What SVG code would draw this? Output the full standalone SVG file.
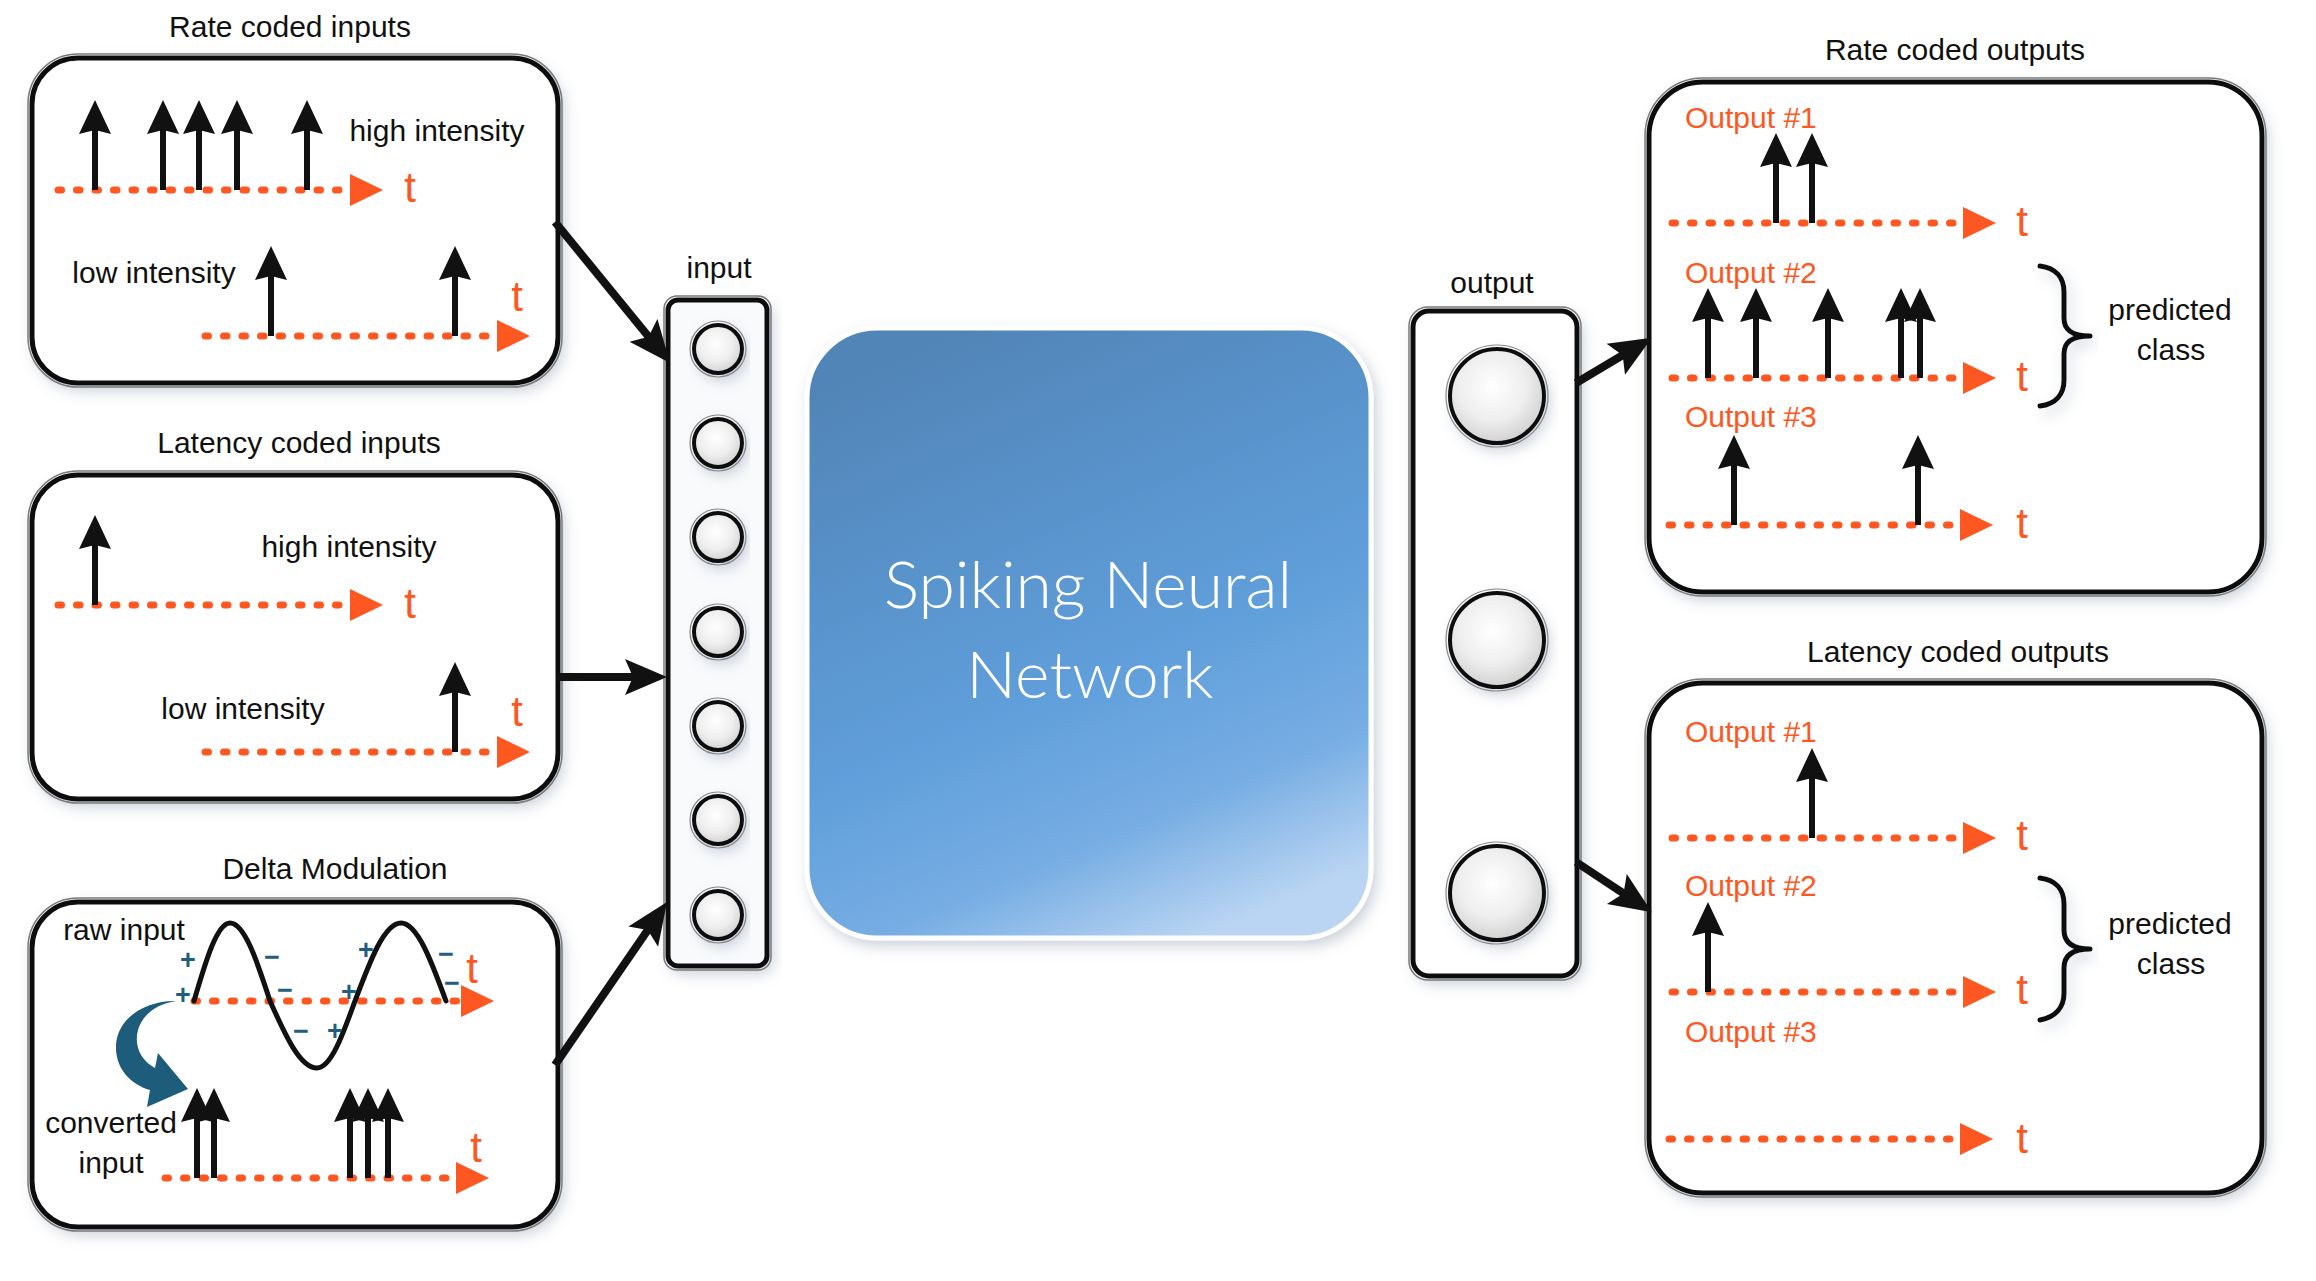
<svg xmlns="http://www.w3.org/2000/svg" width="2316" height="1281" viewBox="0 0 2316 1281">
<defs>
  <style>
    .lbl{font-family:"Liberation Sans",Arial,sans-serif;font-size:30px;fill:#111}
    .mid{text-anchor:middle}
    .org{font-family:"Liberation Sans",Arial,sans-serif;font-size:30px;fill:#FF5722}
    .t{font-family:"Liberation Sans",Arial,sans-serif;font-size:42px;fill:#FF5722;text-anchor:middle}
    .pm{font-family:"Liberation Sans",Arial,sans-serif;font-size:27px;font-weight:700;fill:#1F5E80;text-anchor:middle;dominant-baseline:central}
    .frame{fill:#fff;stroke:#111;stroke-width:5}
    .ring{fill:none;stroke:#7a7a7a;stroke-width:1.5}
    .ax{fill:none;stroke:#FF5722;stroke-width:7;stroke-dasharray:3.5 15;stroke-linecap:round;marker-end:url(#ah)}
    .con{fill:none;stroke:#111;stroke-width:8;marker-end:url(#ch)}
    .nin{fill:url(#rg);stroke:#111;stroke-width:4}
    .brace{fill:none;stroke:#111;stroke-width:5;stroke-linecap:round;stroke-linejoin:round}
    .snn{font-family:Lato,"Open Sans","Liberation Sans",sans-serif;font-weight:300;font-size:66px;fill:#fff;text-anchor:middle}
  </style>
  <filter id="sh" x="-10%" y="-10%" width="125%" height="125%">
    <feDropShadow dx="4" dy="6" stdDeviation="7" flood-color="#6d7f99" flood-opacity="0.35"/>
  </filter>
  <radialGradient id="rg" cx="0.45" cy="0.4" r="0.6">
    <stop offset="0" stop-color="#ffffff"/>
    <stop offset="0.6" stop-color="#eeeeee"/>
    <stop offset="1" stop-color="#d2d2d2"/>
  </radialGradient>
  <linearGradient id="bg" x1="0.3" y1="0" x2="0.7" y2="1">
    <stop offset="0" stop-color="#5185B8"/>
    <stop offset="0.55" stop-color="#5F9EDA"/>
    <stop offset="0.8" stop-color="#76ADE3"/>
    <stop offset="1" stop-color="#BAD5F3"/>
  </linearGradient>
  <marker id="ah" markerUnits="userSpaceOnUse" viewBox="0 0 36 34" refX="2" refY="17" markerWidth="36" markerHeight="34" orient="auto">
    <path d="M0,1 L33,17 L0,33 Z" fill="#FF5722"/>
  </marker>
  <marker id="ch" markerUnits="userSpaceOnUse" viewBox="0 0 44 40" refX="22" refY="20" markerWidth="44" markerHeight="40" orient="auto">
    <path d="M0,2 L42,20 L0,38 L8,20 Z" fill="#111"/>
  </marker>
  <g id="spk">
    <line x1="0" y1="0" x2="0" y2="-62" stroke="#111" stroke-width="6"/>
    <path d="M-16,-56 L0,-90 L16,-56 L0,-60 Z" fill="#111"/>
  </g>
</defs>
<rect width="2316" height="1281" fill="#fff"/>

<!-- Rate coded inputs -->
<g id="box-rate-in">
  <text class="lbl mid" x="290" y="37">Rate coded inputs</text>
  <rect class="frame" x="32" y="58" width="526" height="325" rx="46" filter="url(#sh)"/>
  <rect class="ring" x="28" y="54" width="534" height="333" rx="50"/>
  <line class="ax" x1="58" y1="190" x2="352" y2="190"/>
  <text class="t" x="410" y="202">t</text>
  <use href="#spk" x="95" y="190"/>
  <use href="#spk" x="163" y="190"/>
  <use href="#spk" x="199" y="190"/>
  <use href="#spk" x="237" y="190"/>
  <use href="#spk" x="307" y="190"/>
  <text class="lbl mid" x="437" y="141">high intensity</text>
  <text class="lbl mid" x="154" y="283">low intensity</text>
  <line class="ax" x1="205" y1="336" x2="499" y2="336"/>
  <text class="t" x="517" y="311">t</text>
  <use href="#spk" x="271" y="336"/>
  <use href="#spk" x="455" y="336"/>
</g>

<!-- Latency coded inputs -->
<g id="box-latency-in">
  <text class="lbl mid" x="299" y="453">Latency coded inputs</text>
  <rect class="frame" x="32" y="475" width="526" height="324" rx="46" filter="url(#sh)"/>
  <rect class="ring" x="28" y="471" width="534" height="332" rx="50"/>
  <line class="ax" x1="58" y1="605" x2="352" y2="605"/>
  <text class="t" x="410" y="618">t</text>
  <use href="#spk" x="95" y="605"/>
  <text class="lbl mid" x="349" y="557">high intensity</text>
  <text class="lbl mid" x="243" y="719">low intensity</text>
  <line class="ax" x1="205" y1="752" x2="499" y2="752"/>
  <text class="t" x="517" y="726">t</text>
  <use href="#spk" x="455" y="752"/>
</g>

<!-- Delta Modulation -->
<g id="box-delta">
  <text class="lbl mid" x="335" y="879">Delta Modulation</text>
  <rect class="frame" x="32" y="902" width="526" height="325" rx="46" filter="url(#sh)"/>
  <rect class="ring" x="28" y="898" width="534" height="333" rx="50"/>
  <text class="lbl mid" x="124" y="940">raw input</text>
  <line class="ax" x1="194" y1="1001" x2="463" y2="1001"/>
  <text class="t" x="472" y="983">t</text>
  <path d="M194,1001 C205.7,961 217,923 230,923 C244.5,923 257,961 270,1001 C285.3,1035.3 300,1068 317,1068 C330.8,1068 342.6,1035.3 355,1001 C370,961 384.3,923 401,923 C417.3,923 431.3,961 446,1001" fill="none" stroke="#111" stroke-width="5" stroke-linecap="round"/>
  <text class="pm" x="188" y="960">+</text>
  <text class="pm" x="183" y="995">+</text>
  <text class="pm" x="272" y="957">−</text>
  <text class="pm" x="285" y="990">−</text>
  <text class="pm" x="349" y="992">+</text>
  <text class="pm" x="301" y="1031">−</text>
  <text class="pm" x="335" y="1031">+</text>
  <text class="pm" x="366" y="950">+</text>
  <text class="pm" x="446" y="954">−</text>
  <text class="pm" x="452" y="983">−</text>
  <path d="M176,1001 C150,1000 118,1015 116,1045 C115,1068 130,1084 150,1090 L147,1107 L188,1089 L158,1053 L155,1068 C140,1060 134,1045 138,1030 C143,1013 158,1004 176,1001 Z" fill="#1E5C7C"/>
  <line class="ax" x1="165" y1="1178" x2="458" y2="1178"/>
  <text class="t" x="476" y="1162">t</text>
  <use href="#spk" x="197" y="1178"/>
  <use href="#spk" x="214" y="1178"/>
  <use href="#spk" x="350" y="1178"/>
  <use href="#spk" x="368" y="1178"/>
  <use href="#spk" x="388" y="1178"/>
  <text class="lbl mid" x="111" y="1133">converted</text>
  <text class="lbl mid" x="111" y="1173">input</text>
</g>

<!-- Input layer -->
<g id="input-layer">
  <text class="lbl mid" x="719" y="278">input</text>
  <rect x="668" y="300" width="99" height="666" rx="10" fill="#f9fafc" stroke="#111" stroke-width="5" filter="url(#sh)"/>
  <rect class="ring" x="664" y="296" width="107" height="674" rx="13"/>
  <g filter="url(#sh)">
    <circle class="nin" cx="718" cy="349" r="24"/>
    <circle class="nin" cx="718" cy="443" r="24"/>
    <circle class="nin" cx="718" cy="537" r="24"/>
    <circle class="nin" cx="718" cy="632" r="24"/>
    <circle class="nin" cx="718" cy="726" r="24"/>
    <circle class="nin" cx="718" cy="820" r="24"/>
    <circle class="nin" cx="718" cy="915" r="24"/>
  </g>
  <g fill="none" stroke="#888" stroke-width="1.2">
    <circle cx="718" cy="349" r="28"/>
    <circle cx="718" cy="443" r="28"/>
    <circle cx="718" cy="537" r="28"/>
    <circle cx="718" cy="632" r="28"/>
    <circle cx="718" cy="726" r="28"/>
    <circle cx="718" cy="820" r="28"/>
    <circle cx="718" cy="915" r="28"/>
  </g>
</g>

<!-- SNN -->
<g id="snn">
  <rect x="807" y="328" width="564" height="610" rx="70" fill="url(#bg)" stroke="#fff" stroke-width="5" filter="url(#sh)"/>
  <text class="snn" x="1088" y="608">Spiking Neural</text>
  <text class="snn" x="1090" y="698">Network</text>
</g>

<!-- Output layer -->
<g id="output-layer">
  <text class="lbl mid" x="1492" y="293">output</text>
  <rect x="1413" y="311" width="164" height="665" rx="16" fill="#fff" stroke="#111" stroke-width="5" filter="url(#sh)"/>
  <rect class="ring" x="1409" y="307" width="172" height="673" rx="19"/>
  <g filter="url(#sh)">
    <circle class="nin" cx="1497" cy="396" r="47"/>
    <circle class="nin" cx="1497" cy="640" r="47"/>
    <circle class="nin" cx="1497" cy="893" r="47"/>
  </g>
  <g fill="none" stroke="#888" stroke-width="1.2">
    <circle cx="1497" cy="396" r="51"/>
    <circle cx="1497" cy="640" r="51"/>
    <circle cx="1497" cy="893" r="51"/>
  </g>
</g>

<!-- Rate coded outputs -->
<g id="box-rate-out">
  <text class="lbl mid" x="1955" y="60">Rate coded outputs</text>
  <rect class="frame" x="1649" y="82" width="613" height="510" rx="54" filter="url(#sh)"/>
  <rect class="ring" x="1645" y="78" width="621" height="518" rx="58"/>
  <text class="org" x="1685" y="128">Output #1</text>
  <line class="ax" x1="1672" y1="223" x2="1965" y2="223"/>
  <text class="t" x="2022" y="236">t</text>
  <use href="#spk" x="1776" y="223"/>
  <use href="#spk" x="1812" y="223"/>
  <text class="org" x="1685" y="283">Output #2</text>
  <line class="ax" x1="1672" y1="378" x2="1965" y2="378"/>
  <text class="t" x="2022" y="391">t</text>
  <use href="#spk" x="1708" y="378"/>
  <use href="#spk" x="1756" y="378"/>
  <use href="#spk" x="1828" y="378"/>
  <use href="#spk" x="1901" y="378"/>
  <use href="#spk" x="1920" y="378"/>
  <text class="org" x="1685" y="427">Output #3</text>
  <line class="ax" x1="1669" y1="525" x2="1962" y2="525"/>
  <text class="t" x="2022" y="538">t</text>
  <use href="#spk" x="1734" y="525"/>
  <use href="#spk" x="1918" y="525"/>
  <path class="brace" filter="url(#sh)" d="M2040,266 C2056,268 2064,278 2064,292 L2064,318 C2064,330 2072,336 2090,336 C2072,336 2064,342 2064,354 L2064,380 C2064,394 2056,404 2040,406"/>
  <text class="lbl mid" x="2170" y="320">predicted</text>
  <text class="lbl mid" x="2171" y="360">class</text>
</g>

<!-- Latency coded outputs -->
<g id="box-latency-out">
  <text class="lbl mid" x="1958" y="662">Latency coded outputs</text>
  <rect class="frame" x="1649" y="683" width="613" height="510" rx="54" filter="url(#sh)"/>
  <rect class="ring" x="1645" y="679" width="621" height="518" rx="58"/>
  <text class="org" x="1685" y="742">Output #1</text>
  <line class="ax" x1="1672" y1="838" x2="1965" y2="838"/>
  <text class="t" x="2022" y="850">t</text>
  <use href="#spk" x="1812" y="838"/>
  <text class="org" x="1685" y="896">Output #2</text>
  <line class="ax" x1="1672" y1="992" x2="1965" y2="992"/>
  <text class="t" x="2022" y="1004">t</text>
  <use href="#spk" x="1708" y="992"/>
  <text class="org" x="1685" y="1042">Output #3</text>
  <line class="ax" x1="1669" y1="1139" x2="1962" y2="1139"/>
  <text class="t" x="2022" y="1153">t</text>
  <path class="brace" filter="url(#sh)" d="M2040,878 C2056,880 2064,890 2064,904 L2064,930 C2064,942 2072,949 2090,949 C2072,949 2064,956 2064,968 L2064,993 C2064,1007 2056,1017 2040,1020"/>
  <text class="lbl mid" x="2170" y="934">predicted</text>
  <text class="lbl mid" x="2171" y="974">class</text>
</g>

<!-- Connectors -->
<g id="connectors">
  <line class="con" x1="555" y1="222" x2="657.4" y2="347.5"/>
  <line class="con" x1="556" y1="677" x2="647" y2="677"/>
  <line class="con" x1="555" y1="1065" x2="655.7" y2="918.5"/>
  <line class="con" x1="1576" y1="383" x2="1634.7" y2="348"/>
  <line class="con" x1="1576" y1="862" x2="1635.2" y2="901.2"/>
</g>
</svg>
